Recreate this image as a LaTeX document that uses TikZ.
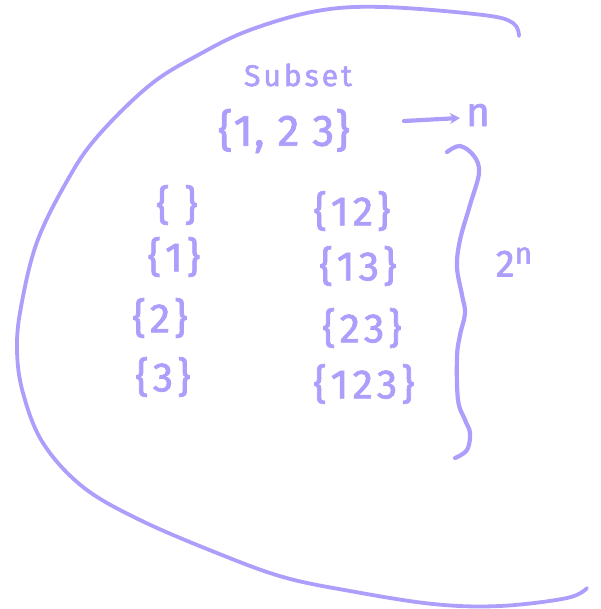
\documentclass[tikz,border=0pt]{standalone}
\usepackage{fontspec}
\usetikzlibrary{arrows.meta}
\newfontfamily\hand{Fira Sans}[LetterSpace=10, FakeBold=1.8]
\newfontfamily\handtight{Fira Sans}[LetterSpace=3, FakeBold=1.8]
\definecolor{ink}{RGB}{172,158,250}
\tikzset{
  stroke/.style={draw=ink, line width=4.2pt, line cap=round, line join=round},
  hw/.style={text=ink, inner sep=0pt, font=\hand\fontsize{41}{44}\selectfont},
  hwsmall/.style={text=ink, inner sep=0pt, font=\hand\fontsize{30}{32}\selectfont},
}
\begin{document}
\begin{tikzpicture}[x=1pt,y=-1pt]
\useasboundingbox (0,0) rectangle (600,609);
% enclosing hand-drawn curve
\draw[stroke, line width=3.8pt] plot[smooth, tension=0.6] coordinates {
 (519,36) (513,23) (483,15) (383,7) (317,11) (250,30) (200,54) (150,85)
 (97,137) (67,181) (37,242) (21,307) (17,350) (23,393) (43,443)
 (83,487) (140,520) (217,553) (283,577) (350,591) (433,604) (500,606)
 (567,598) (587,588)};
% texts
\node[hwsmall] (title) at (298,75) {Subset};
\node[hw, font=\handtight\fontsize{44}{46}\selectfont] (set) at (284,131) {\{1, 2 3\}};
\coordinate (arrS) at (404,121);
\coordinate (arrE) at (460,118);
\draw[stroke, -{Stealth[length=10pt,width=11pt]}] (arrS) -- (arrE);
\node[hw] (n1) at (478,115) {n};
\node[hw] (e0) at (177,205) {\{ \}};
\node[hw] (e1) at (174,257) {\{1\}};
\node[hw] (e2) at (160,318) {\{2\}};
\node[hw] (e3) at (163,377) {\{3\}};
\node[hw] (e12) at (352,211) {\{12\}};
\node[hw] (e13) at (358,266) {\{13\}};
\node[hw] (e23) at (362,328) {\{23\}};
\node[hw] (e123) at (364,384) {\{123\}};
% right brace
\draw[stroke] plot[smooth, tension=0.6] coordinates {
 (447,152) (460,146) (474,156) (479,173) (470,205) (460,240) (457,267)
 (462,295) (465,313) (460,335) (457,357) (458,400) (465,420) (470,433)
 (467,450) (455,458)};
\node[hw, font=\hand\fontsize{38}{40}\selectfont] (pow) at (514,262) {2\raisebox{13pt}{\fontsize{30}{32}\selectfont n}};
\end{tikzpicture}
\end{document}
